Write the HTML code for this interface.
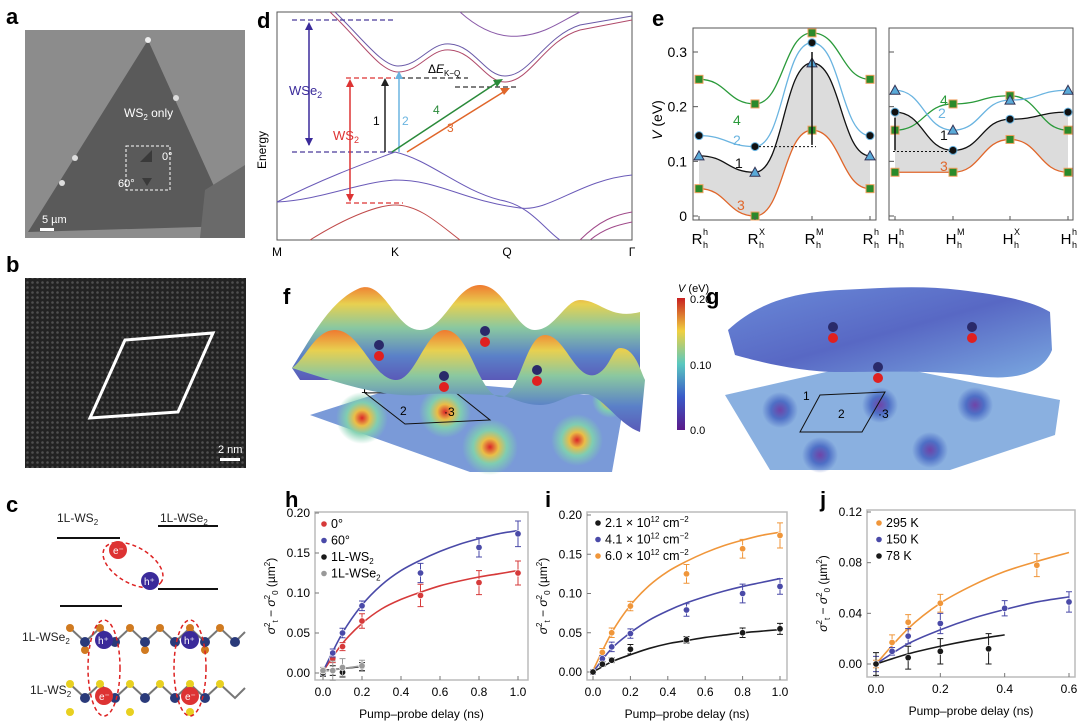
<!DOCTYPE html>
<html><head><meta charset="utf-8"><style>
body{margin:0;background:#fff}
svg{display:block;font-family:"Liberation Sans",sans-serif}
.pl{font-weight:bold;font-size:22px}
.t{font-size:12px;fill:#222}
</style></head><body>
<svg id="fig" width="1080" height="727" viewBox="0 0 1080 727" xmlns="http://www.w3.org/2000/svg">
<defs>
<linearGradient id="rowg" x1="0" y1="0" x2="0" y2="1">
<stop offset="0" stop-color="#f07a30"/><stop offset="0.2" stop-color="#e8d050"/><stop offset="0.45" stop-color="#8ac8a0"/><stop offset="0.75" stop-color="#5a80c8"/><stop offset="1" stop-color="#5a5ab8"/></linearGradient>
<linearGradient id="surfg" x1="0" y1="0" x2="1" y2="1">
<stop offset="0" stop-color="#6a8ad8"/><stop offset="0.5" stop-color="#5868c4"/><stop offset="1" stop-color="#7aa8e0"/></linearGradient>
<linearGradient id="cbar" x1="0" y1="1" x2="0" y2="0">
<stop offset="0" stop-color="#5a1a8a"/><stop offset="0.25" stop-color="#3a5ac8"/><stop offset="0.5" stop-color="#5ac8c0"/><stop offset="0.75" stop-color="#f0d040"/><stop offset="1" stop-color="#c82020"/></linearGradient>
<radialGradient id="hot"><stop offset="0" stop-color="#e02020"/><stop offset="0.3" stop-color="#f0c040"/><stop offset="0.6" stop-color="#80d0b0"/><stop offset="1" stop-color="#80d0b0" stop-opacity="0"/></radialGradient>
<radialGradient id="cold"><stop offset="0" stop-color="#6a2a9a"/><stop offset="0.5" stop-color="#4060c0"/><stop offset="1" stop-color="#4060c0" stop-opacity="0"/></radialGradient>
<pattern id="lat" width="5" height="5" patternUnits="userSpaceOnUse"><rect width="5" height="5" fill="#2e2e2e"/><circle cx="2.5" cy="2.5" r="1.3" fill="#6a6a6a"/></pattern>
</defs>

<!-- panel a -->
<text class="pl" x="6" y="24">a</text>
<g>
<rect x="25" y="30" width="220" height="208" fill="#8c8c8c"/>
<polygon points="148,40 28,232 232,226" fill="#5a5a5a"/>
<polygon points="205,190 245,165 245,238 200,238" fill="#6a6a6a"/>
<circle cx="148" cy="40" r="3" fill="#eee"/><circle cx="176" cy="98" r="3" fill="#ddd"/><circle cx="75" cy="158" r="3" fill="#ddd"/><circle cx="62" cy="183" r="3" fill="#ddd"/>
<polygon points="140,162 152,150 152,162" fill="#3a3a3a"/><polygon points="142,178 152,178 147,186" fill="#3a3a3a"/>
<rect x="126" y="146" width="44" height="44" fill="none" stroke="#fff" stroke-dasharray="3,2"/>
<text x="124" y="117" fill="#fff" font-size="12">WS<tspan font-size="8" dy="3">2</tspan><tspan dy="-3"> only</tspan></text>
<text x="162" y="160" fill="#fff" font-size="11">0°</text><text x="118" y="187" fill="#fff" font-size="11">60°</text>
<rect x="40" y="228" width="14" height="3" fill="#fff"/><text x="42" y="223" fill="#fff" font-size="11">5 µm</text>
</g>

<!-- panel b -->
<text class="pl" x="6" y="272">b</text>
<g>
<rect x="25" y="278" width="221" height="190" fill="url(#lat)"/>
<rect x="25" y="278" width="221" height="190" fill="#000" opacity="0.25"/>
<polygon points="125,340 213,333 178,412 90,418" fill="none" stroke="#fff" stroke-width="3"/>
<rect x="220" y="458" width="20" height="3" fill="#fff"/><text x="218" y="453" fill="#fff" font-size="11">2 nm</text>
</g>

<!-- panel c -->
<text class="pl" x="6" y="512">c</text>
<g>
<text x="57" y="522" class="t">1L-WS<tspan font-size="8" dy="3">2</tspan></text>
<text x="160" y="522" class="t">1L-WSe<tspan font-size="8" dy="3">2</tspan></text>
<line x1="57" y1="538" x2="120" y2="538" stroke="#111" stroke-width="2"/>
<line x1="158" y1="526" x2="218" y2="526" stroke="#111" stroke-width="2"/>
<line x1="60" y1="606" x2="122" y2="606" stroke="#111" stroke-width="2"/>
<line x1="158" y1="589" x2="218" y2="589" stroke="#111" stroke-width="2"/>
<ellipse cx="133" cy="565" rx="33" ry="18" transform="rotate(30 133 565)" fill="none" stroke="#d22" stroke-dasharray="4,3" stroke-width="1.5"/>
<circle cx="118" cy="550" r="9" fill="#d33"/><text x="113" y="554" fill="#fff" font-size="10">e⁻</text>
<circle cx="150" cy="581" r="9" fill="#3a2a9a"/><text x="144" y="585" fill="#fff" font-size="10">h⁺</text>
<text x="22" y="641" class="t">1L-WSe<tspan font-size="8" dy="3">2</tspan></text>
<text x="30" y="694" class="t">1L-WS<tspan font-size="8" dy="3">2</tspan></text>
<polyline points="70,628 85,642 100,628 115,642 130,628 145,642 160,628 175,642 190,628 205,642 220,628 235,642 245,632" fill="none" stroke="#777" stroke-width="2"/>
<polyline points="70,684 85,698 100,684 115,698 130,684 145,698 160,684 175,698 190,684 205,698 220,684 235,698 245,688" fill="none" stroke="#777" stroke-width="2"/>
<g fill="#d07a20"><circle cx="70" cy="628" r="4"/><circle cx="100" cy="628" r="4"/><circle cx="130" cy="628" r="4"/><circle cx="160" cy="628" r="4"/><circle cx="190" cy="628" r="4"/><circle cx="220" cy="628" r="4"/><circle cx="85" cy="650" r="4"/><circle cx="145" cy="650" r="4"/><circle cx="205" cy="650" r="4"/></g>
<g fill="#2a3a7a"><circle cx="85" cy="642" r="5"/><circle cx="115" cy="642" r="5"/><circle cx="145" cy="642" r="5"/><circle cx="175" cy="642" r="5"/><circle cx="205" cy="642" r="5"/><circle cx="235" cy="642" r="5"/><circle cx="85" cy="698" r="5"/><circle cx="115" cy="698" r="5"/><circle cx="145" cy="698" r="5"/><circle cx="175" cy="698" r="5"/><circle cx="205" cy="698" r="5"/></g>
<g fill="#e8d020"><circle cx="70" cy="684" r="4"/><circle cx="100" cy="684" r="4"/><circle cx="130" cy="684" r="4"/><circle cx="160" cy="684" r="4"/><circle cx="190" cy="684" r="4"/><circle cx="220" cy="684" r="4"/><circle cx="70" cy="712" r="4"/><circle cx="130" cy="712" r="4"/><circle cx="190" cy="712" r="4"/></g>
<ellipse cx="104" cy="668" rx="16" ry="48" fill="none" stroke="#d22" stroke-dasharray="4,3" stroke-width="1.5"/>
<ellipse cx="190" cy="668" rx="16" ry="48" fill="none" stroke="#d22" stroke-dasharray="4,3" stroke-width="1.5"/>
<circle cx="104" cy="640" r="9" fill="#3a2a9a"/><text x="98" y="644" fill="#fff" font-size="10">h⁺</text>
<circle cx="190" cy="640" r="9" fill="#3a2a9a"/><text x="184" y="644" fill="#fff" font-size="10">h⁺</text>
<circle cx="104" cy="696" r="9" fill="#d33"/><text x="99" y="700" fill="#fff" font-size="10">e⁻</text>
<circle cx="190" cy="696" r="9" fill="#d33"/><text x="185" y="700" fill="#fff" font-size="10">e⁻</text>
</g>

<!-- panel d -->
<text class="pl" x="257" y="28">d</text>
<g>
<rect x="277" y="12" width="355" height="228" fill="none" stroke="#555"/>
<g fill="none" stroke-width="1">
<path d="M330,12 C360,40 380,72 398,72 C420,72 430,48 450,50 C475,52 485,82 505,82 C530,82 545,40 580,30 L632,20" stroke="#b04a6a"/>
<path d="M335,12 C362,38 382,66 398,66 C420,66 430,42 450,44 C475,46 485,76 505,76 C530,76 545,36 580,25 L632,16" stroke="#6a5aa8"/>
<path d="M460,12 C480,30 500,38 520,36 C545,34 560,22 580,12" stroke="#8a5aa8"/>
<path d="M277,202 C320,180 360,165 395,152 C430,160 460,190 500,200 C530,205 545,230 560,240" stroke="#6a5ab8"/>
<path d="M277,202 C320,200 360,182 395,180 C440,180 460,200 520,208 C550,212 580,180 632,175" stroke="#6a5ab8"/>
<path d="M310,240 C350,215 380,205 395,205 C420,205 440,225 460,240" stroke="#c04a4a"/>
<path d="M580,240 C600,220 615,215 632,212" stroke="#a04a8a"/><path d="M590,240 C605,228 618,225 632,222" stroke="#a04a8a"/>
</g>
<g stroke-dasharray="5,3" stroke-width="1.2" fill="none">
<line x1="292" y1="20" x2="395" y2="20" stroke="#4a3a9a"/>
<line x1="292" y1="152" x2="395" y2="152" stroke="#4a3a9a"/>
<line x1="346" y1="78" x2="395" y2="78" stroke="#d33"/>
<line x1="346" y1="203" x2="403" y2="203" stroke="#d33"/>
<line x1="400" y1="78" x2="468" y2="78" stroke="#333"/>
<line x1="455" y1="87" x2="518" y2="87" stroke="#333"/>
</g>
<g stroke-width="1.5">
<line x1="309" y1="25" x2="309" y2="145" stroke="#3a2a9a"/><polygon points="309,22 305,30 313,30" fill="#3a2a9a"/><polygon points="309,146 305,138 313,138" fill="#3a2a9a"/>
<line x1="350" y1="82" x2="350" y2="200" stroke="#d33"/><polygon points="350,79 346,87 354,87" fill="#d33"/><polygon points="350,202 346,194 354,194" fill="#d33"/>
<line x1="385" y1="152" x2="385" y2="82" stroke="#222"/><polygon points="385,78 381,86 389,86" fill="#222"/>
<line x1="399" y1="152" x2="399" y2="76" stroke="#6ab4e0"/><polygon points="399,71 395,79 403,79" fill="#6ab4e0"/>
<line x1="392" y1="152" x2="498" y2="82" stroke="#2a8a3a"/><polygon points="503,79 493,80 497,87" fill="#2a8a3a"/>
<line x1="407" y1="152" x2="505" y2="91" stroke="#e0662a"/><polygon points="510,88 500,88 504,95" fill="#e0662a"/>
</g>
<text x="289" y="95" fill="#3a2a9a" font-size="13">WSe<tspan font-size="9" dy="3">2</tspan></text>
<text x="333" y="140" fill="#d33" font-size="13">WS<tspan font-size="9" dy="3">2</tspan></text>
<text x="373" y="125" font-size="12">1</text><text x="402" y="125" font-size="12" fill="#6ab4e0">2</text>
<text x="433" y="114" font-size="12" fill="#2a8a3a">4</text><text x="447" y="132" font-size="12" fill="#e0662a">3</text>
<text x="428" y="73" font-size="12">Δ<tspan font-style="italic">E</tspan><tspan font-size="8" dy="3">K−Q</tspan></text>
<text x="266" y="150" font-size="12" transform="rotate(-90 266 150)" text-anchor="middle">Energy</text>
<g font-size="12" text-anchor="middle"><text x="277" y="256">M</text><text x="395" y="256">K</text><text x="507" y="256">Q</text><text x="632" y="256">Γ</text></g>
</g>

<!-- panel e -->
<text class="pl" x="652" y="26">e</text>
<g id="eplot"></g>

<!-- panel f -->
<text class="pl" x="283" y="304">f</text>
<g>
<polygon points="310,415 420,380 625,398 612,472 470,472" fill="#7a9ad8"/>
<g opacity="0.95"><circle cx="362" cy="418" r="26" fill="url(#hot)"/><circle cx="445" cy="412" r="26" fill="url(#hot)"/><circle cx="490" cy="447" r="28" fill="url(#hot)"/><circle cx="577" cy="440" r="26" fill="url(#hot)"/><circle cx="610" cy="400" r="18" fill="url(#hot)"/></g>
<polygon points="365,393 405,424 490,420 455,392" fill="none" stroke="#111"/>
<text x="361" y="393" font-size="12">1</text><text x="400" y="415" font-size="12">2</text><text x="444" y="416" font-size="12">·3</text>
<path d="M292,368 C310,340 330,300 360,288 C385,280 395,330 420,330 C445,330 455,285 480,285 C505,285 515,330 535,330 C555,330 565,300 580,300 C600,300 610,320 640,312 L640,380 L300,380 Z" fill="url(#rowg)"/>
<path d="M292,368 C305,360 315,330 335,330 C360,330 372,378 395,380 C415,382 425,330 445,330 C470,330 478,395 500,397 C520,398 525,335 545,335 C565,335 575,380 595,375 C610,370 612,348 620,348 C635,348 640,370 645,380 L640,432 C620,425 605,400 590,395 C570,390 560,405 540,405 C520,405 510,395 495,395 C470,395 440,392 420,395 C380,398 330,380 292,368 Z" fill="url(#rowg)"/>
<g fill="#e02020"><circle cx="379" cy="356" r="5"/><circle cx="485" cy="342" r="5"/><circle cx="444" cy="387" r="5"/><circle cx="537" cy="381" r="5"/></g>
<g fill="#2a2a6a"><circle cx="379" cy="345" r="5"/><circle cx="485" cy="331" r="5"/><circle cx="444" cy="376" r="5"/><circle cx="537" cy="370" r="5"/></g>
</g>
<g>
<rect x="677" y="298" width="8" height="132" fill="url(#cbar)"/>
<text x="678" y="292" font-size="11"><tspan font-style="italic">V</tspan> (eV)</text>
<text x="690" y="303" font-size="11">0.20</text><text x="690" y="369" font-size="11">0.10</text><text x="690" y="434" font-size="11">0.0</text>
</g>

<!-- panel g -->
<text class="pl" x="706" y="304">g</text>
<g>
<polygon points="725,395 870,362 1060,400 1055,435 950,470 770,470" fill="#8ab0e0"/>
<g opacity="0.8"><circle cx="780" cy="410" r="18" fill="url(#cold)"/><circle cx="880" cy="405" r="18" fill="url(#cold)"/><circle cx="975" cy="405" r="18" fill="url(#cold)"/><circle cx="820" cy="455" r="18" fill="url(#cold)"/><circle cx="930" cy="450" r="18" fill="url(#cold)"/></g>
<polygon points="820,395 885,392 862,432 800,432" fill="none" stroke="#111"/>
<text x="803" y="400" font-size="12">1</text><text x="838" y="418" font-size="12">2</text><text x="878" y="418" font-size="12">·3</text>
<path d="M728,330 C760,300 800,292 840,290 C880,288 920,285 960,290 C1000,295 1030,300 1050,312 L1052,350 C1040,380 1000,380 970,375 C930,370 880,372 840,372 C800,372 760,362 735,355 Z" fill="url(#surfg)"/>
<g fill="#e02020"><circle cx="833" cy="338" r="5"/><circle cx="972" cy="338" r="5"/><circle cx="878" cy="378" r="5"/></g>
<g fill="#2a2a6a"><circle cx="833" cy="327" r="5"/><circle cx="972" cy="327" r="5"/><circle cx="878" cy="367" r="5"/></g>
</g>

<text class="pl" x="285" y="507">h</text>
<text class="pl" x="545" y="507">i</text>
<text class="pl" x="820" y="507">j</text>
<g id="hplot"></g>
<g id="iplot"></g>
<g id="jplot"></g>
</svg>
<script>
// ---- panel e data ----
var eLeftLabels = ["R","R","R","R"];
var eLeftSup = ["h","X","M","h"];
var eRightLabels = ["H","H","H","H"];
var eRightSup = ["h","M","X","h"];
var eYTicks = [0, 0.1, 0.2, 0.3];
var eL4 = [0.25, 0.205, 0.335, 0.25];
var eL2 = [0.147, 0.127, 0.317, 0.147];
var eL1 = [0.11, 0.08, 0.28, 0.11];
var eL3 = [0.05, 0.0, 0.157, 0.05];
var eR4 = [0.157, 0.205, 0.22, 0.157];
var eR2 = [0.23, 0.157, 0.212, 0.23];
var eR1 = [0.19, 0.12, 0.177, 0.19];
var eR3 = [0.08, 0.08, 0.14, 0.08];

// ---- panel h data ----
var hX = [0, 0.05, 0.1, 0.2, 0.5, 0.8, 1.0];
var hY0 = [0.002, 0.018, 0.033, 0.065, 0.097, 0.113, 0.125];
var hE0 = [0.003, 0.005, 0.005, 0.009, 0.014, 0.015, 0.015];
var hY60 = [0.0, 0.025, 0.05, 0.084, 0.125, 0.157, 0.174];
var hE60 = [0.003, 0.005, 0.006, 0.006, 0.012, 0.012, 0.016];
var hXs = [0, 0.05, 0.1, 0.2];
var hYws2 = [0.0, 0.003, 0.001, 0.008];
var hEws2 = [0.004, 0.006, 0.006, 0.005];
var hYwse2 = [0.003, 0.003, 0.007, 0.009];
var hEwse2 = [0.004, 0.012, 0.011, 0.007];
var fitX = [0, 0.1, 0.2, 0.3, 0.4, 0.5, 0.6, 0.7, 0.8, 0.9, 1.0];
var hFit0 = [0.002, 0.037, 0.062, 0.080, 0.092, 0.101, 0.109, 0.115, 0.120, 0.124, 0.128];
var hFit60 = [0.002, 0.05, 0.085, 0.11, 0.128, 0.141, 0.152, 0.161, 0.168, 0.174, 0.178];
var hFitSX = [0, 0.2];
var hFitWs2 = [0.003, 0.008];
var hFitWse2 = [0.002, 0.009];
var hYTicks = [0, 0.05, 0.10, 0.15, 0.20];
var hYTickLabels = ["0.00", "0.05", "0.10", "0.15", "0.20"];
var xTicks1 = [0, 0.2, 0.4, 0.6, 0.8, 1.0];
var xTickLabels1 = ["0.0", "0.2", "0.4", "0.6", "0.8", "1.0"];

// ---- panel i data ----
var iX = [0, 0.05, 0.1, 0.2, 0.5, 0.8, 1.0];
var iYo = [0.0, 0.025, 0.05, 0.084, 0.125, 0.157, 0.174];
var iEo = [0.003, 0.005, 0.006, 0.006, 0.012, 0.012, 0.016];
var iYb = [0.0, 0.017, 0.032, 0.049, 0.079, 0.1, 0.109];
var iEb = [0.003, 0.004, 0.006, 0.006, 0.008, 0.012, 0.01];
var iYk = [0.0, 0.01, 0.015, 0.029, 0.041, 0.05, 0.055];
var iEk = [0.002, 0.003, 0.003, 0.006, 0.004, 0.006, 0.007];
var iFitO = [0.002, 0.05, 0.085, 0.11, 0.128, 0.141, 0.152, 0.161, 0.168, 0.174, 0.178];
var iFitB = [0.0, 0.03, 0.05, 0.066, 0.078, 0.088, 0.096, 0.103, 0.109, 0.114, 0.119];
var iFitK = [0.0, 0.013, 0.022, 0.03, 0.036, 0.04, 0.044, 0.047, 0.05, 0.052, 0.054];

// ---- panel j data ----
var jXo = [0, 0.05, 0.1, 0.2, 0.5];
var jYo = [0.0, 0.017, 0.033, 0.048, 0.078];
var jEo = [0.003, 0.006, 0.006, 0.007, 0.009];
var jXb = [0, 0.05, 0.1, 0.2, 0.4, 0.6];
var jYb = [0.0, 0.01, 0.022, 0.032, 0.044, 0.049];
var jEb = [0.006, 0.003, 0.006, 0.008, 0.006, 0.008];
var jXk = [0, 0.1, 0.2, 0.35];
var jYk = [0.0, 0.005, 0.01, 0.012];
var jEk = [0.009, 0.009, 0.01, 0.012];
var jFitX = [0, 0.1, 0.2, 0.3, 0.4, 0.5, 0.6];
var jFitO = [0.0, 0.028, 0.048, 0.062, 0.073, 0.081, 0.088];
var jFitB = [0.0, 0.016, 0.027, 0.036, 0.043, 0.049, 0.053];
var jFitKX = [0, 0.1, 0.2, 0.3, 0.4];
var jFitK = [0.0, 0.008, 0.014, 0.019, 0.023];
var jYTicks = [0, 0.04, 0.08, 0.12];
var jYTickLabels = ["0.00", "0.04", "0.08", "0.12"];
var xTicks2 = [0, 0.2, 0.4, 0.6];
var xTickLabels2 = ["0.0", "0.2", "0.4", "0.6"];

var NS = "http://www.w3.org/2000/svg";
function mk(tag, parent, attrs) {
  var e = document.createElementNS(NS, tag);
  for (var k in attrs) e.setAttribute(k, attrs[k]);
  parent.appendChild(e);
  return e;
}
function smoothPath(px, py) {
  var d = "M" + px[0] + "," + py[0];
  for (var i = 0; i < px.length - 1; i++) {
    var p0x = px[Math.max(i - 1, 0)], p0y = py[Math.max(i - 1, 0)];
    var p3x = px[Math.min(i + 2, px.length - 1)], p3y = py[Math.min(i + 2, px.length - 1)];
    var c1x = px[i] + (px[i + 1] - p0x) / 6, c1y = py[i] + (py[i + 1] - p0y) / 6;
    var c2x = px[i + 1] - (p3x - px[i]) / 6, c2y = py[i + 1] - (p3y - py[i]) / 6;
    d += " C" + c1x + "," + c1y + " " + c2x + "," + c2y + " " + px[i + 1] + "," + py[i + 1];
  }
  return d;
}
function flatPath(px, py) {
  var d = "M" + px[0] + "," + py[0];
  for (var i = 0; i < px.length - 1; i++) {
    var m = (px[i] + px[i + 1]) / 2;
    d += " C" + m + "," + py[i] + " " + m + "," + py[i + 1] + " " + px[i + 1] + "," + py[i + 1];
  }
  return d;
}

// ---------- panel e ----------
(function () {
  var g = document.getElementById("eplot");
  var ey = function (v) { return 216 - v * 546.7; };
  var boxes = [{x0: 693, x1: 876, xs: [699, 755, 812, 870], labs: eLeftLabels, sups: eLeftSup,
    s: [eL4, eL2, eL1, eL3]},
    {x0: 889, x1: 1073, xs: [895, 953, 1010, 1068], labs: eRightLabels, sups: eRightSup,
    s: [eR4, eR2, eR1, eR3]}];
  var cols = ["#2a9a3a", "#6ab4e0", "#111", "#e0662a"];
  boxes.forEach(function (b, bi) {
    var px = b.xs;
    var p1 = flatPath(px, b.s[2].map(ey));
    var p3 = flatPath(px.slice().reverse(), b.s[3].slice().reverse().map(ey));
    var fill = mk("path", g, {d: p1 + " L" + px[3] + "," + ey(b.s[3][3]) + p3.replace("M", " L") + " Z", fill: "#dcdcdc"});
    
    
    var box = mk("rect", g, {x: b.x0, y: 28, width: b.x1 - b.x0, height: 192, fill: "none", stroke: "#555"});
    
    
    b.s.forEach(function (ser, si) {
      var ln = mk("path", g, {d: flatPath(px, ser.map(ey)), fill: "none", stroke: cols[si], "stroke-width": 1.3});
      
      
      ser.forEach(function (v, k) {
        var m;
        if (si === 0 || si === 3) m = mk("rect", g, {x: px[k] - 4, y: ey(v) - 4, width: 8, height: 8, fill: "#2a8a2a", stroke: "#f0a060"});
        else if ((si === 1 && bi === 1) || (si === 2 && bi === 0)) m = mk("polygon", g, {points: px[k] + "," + (ey(v) - 5) + " " + (px[k] - 5) + "," + (ey(v) + 4) + " " + (px[k] + 5) + "," + (ey(v) + 4), fill: "#5aaad8", stroke: "#335"});
        else m = mk("circle", g, {cx: px[k], cy: ey(v), r: 4, fill: "#111", stroke: "#6ab4e0"});
        
        
      });
    });
    b.labs.forEach(function (l, k) {
      var t = mk("text", g, {x: px[k] - 2, y: 244, "font-size": 15, "text-anchor": "middle"});
      t.textContent = l;
      
      
      var s1 = mk("text", g, {x: px[k] + 4, y: 235, "font-size": 9}); s1.textContent = b.sups[k];
      var s2 = mk("text", g, {x: px[k] + 4, y: 248, "font-size": 9}); s2.textContent = "h";
      mk("line", g, {x1: px[k], y1: 220, x2: px[k], y2: 216, stroke: "#555"});
    });
    eYTicks.forEach(function (v) {
      mk("line", g, {x1: b.x0, y1: ey(v), x2: b.x0 + 5, y2: ey(v), stroke: "#555"});
      if (bi === 0) {
        var t = mk("text", g, {x: b.x0 - 6, y: ey(v) + 5, "font-size": 14, "text-anchor": "end"});
        t.textContent = v === 0 ? "0" : v.toFixed(1);
        
        
      }
    });
  });
  var lab = [["4", 733, 125, "#2a9a3a"], ["2", 733, 145, "#6ab4e0"], ["1", 735, 168, "#111"], ["3", 737, 210, "#e0662a"],
             ["4", 940, 105, "#2a9a3a"], ["2", 938, 118, "#6ab4e0"], ["1", 940, 140, "#111"], ["3", 940, 171, "#e0662a"]];
  lab.forEach(function (a) { var t = mk("text", g, {x: a[1], y: a[2], "font-size": 14, fill: a[3]}); t.textContent = a[0]; });
  mk("line", g, {x1: 755, y1: ey(0.127), x2: 816, y2: ey(0.127), stroke: "#111", "stroke-dasharray": "2,2"});
  mk("line", g, {x1: 893, y1: ey(0.118), x2: 953, y2: ey(0.118), stroke: "#111", "stroke-dasharray": "2,2"});
  mk("line", g, {x1: 812, y1: ey(0.3), x2: 812, y2: ey(0.13), stroke: "#111", "stroke-width": 1.5});
  mk("line", g, {x1: 895, y1: ey(0.18), x2: 895, y2: ey(0.12), stroke: "#111", "stroke-width": 1.5});
  var yt = mk("text", g, {x: 662, y: 120, "font-size": 14, transform: "rotate(-90 662 120)", "text-anchor": "middle"});
  yt.innerHTML = '<tspan font-style="italic">V</tspan> (eV)';
  
  
})();

// ---------- generic plot ----------
function plot(gid, cfg) {
  var g = document.getElementById(gid);
  var sx = function (v) { return cfg.px0 + (v - cfg.xmin) / (cfg.xmax - cfg.xmin) * (cfg.px1 - cfg.px0); };
  var sy = function (v) { return cfg.py0 - (v - cfg.ymin) / (cfg.ymax - cfg.ymin) * (cfg.py0 - cfg.py1); };
  var fr = mk("rect", g, {x: cfg.bx0, y: cfg.by0, width: cfg.bx1 - cfg.bx0, height: cfg.by1 - cfg.by0, fill: "none", stroke: "#bbb", "stroke-width": 1.5});
  
  
  cfg.yt.forEach(function (v, i) {
    mk("line", g, {x1: cfg.bx0, y1: sy(v), x2: cfg.bx0 + 4, y2: sy(v), stroke: "#777"});
    var t = mk("text", g, {x: cfg.bx0 - 5, y: sy(v) + 4, "font-size": 12, "text-anchor": "end"});
    t.textContent = cfg.ytl[i];
    
    
  });
  cfg.xt.forEach(function (v, i) {
    mk("line", g, {x1: sx(v), y1: cfg.by1, x2: sx(v), y2: cfg.by1 - 4, stroke: "#777"});
    var t = mk("text", g, {x: sx(v), y: cfg.by1 + 16, "font-size": 12, "text-anchor": "middle"});
    t.textContent = cfg.xtl[i];
    
    
  });
  var xt = mk("text", g, {x: (cfg.bx0 + cfg.bx1) / 2, y: cfg.by1 + 38, "font-size": 12, "text-anchor": "middle"});
  xt.textContent = "Pump–probe delay (ns)";
  
  
  var yx = cfg.bx0 - 40, ym = (cfg.by0 + cfg.by1) / 2;
  var ytt = mk("text", g, {x: yx, y: ym, "font-size": 12, "text-anchor": "middle", transform: "rotate(-90 " + yx + " " + ym + ")"});
  ytt.innerHTML = '<tspan font-style="italic">σ</tspan><tspan font-size="8" dy="-5">2</tspan><tspan font-size="8" dy="8">t</tspan><tspan dy="-3"> − </tspan><tspan font-style="italic">σ</tspan><tspan font-size="8" dy="-5">2</tspan><tspan font-size="8" dy="8">0</tspan><tspan dy="-3"> (µm</tspan><tspan font-size="8" dy="-5">2</tspan><tspan dy="5">)</tspan>';
  
  
  cfg.fits.forEach(function (f) {
    var p = mk("path", g, {d: smoothPath(f[0].map(sx), f[1].map(sy)), fill: "none", stroke: f[2], "stroke-width": 1.6});
    
    
  });
  cfg.series.forEach(function (s) {
    s.x.forEach(function (xv, k) {
      var X = sx(xv), Y = sy(s.y[k]), e = s.e[k];
      var eb = mk("path", g, {d: "M" + X + "," + sy(s.y[k] - e) + "V" + sy(s.y[k] + e) + "M" + (X - 3) + "," + sy(s.y[k] - e) + "h6M" + (X - 3) + "," + sy(s.y[k] + e) + "h6", stroke: s.c, fill: "none", "stroke-width": 1});
      
      
      var c = mk("circle", g, {cx: X, cy: Y, r: 3.2, fill: s.c, stroke: "#fff", "stroke-width": 0.6});
      
      
    });
  });
  cfg.legend.forEach(function (l, i) {
    var y = cfg.ly + i * 16.5;
    var c = mk("circle", g, {cx: cfg.lx, cy: y - 4, r: 2.8, fill: l[1]});
    
    
    var t = mk("text", g, {x: cfg.lx + 7, y: y, "font-size": 12.5});
    t.innerHTML = l[0];
    
    
  });
}
var R = "#d63a3a", B = "#4a4aa8", K = "#1a1a1a", G = "#999", O = "#f0963a";
plot("hplot", {bx0: 315, bx1: 528, by0: 512, by1: 680, px0: 323, px1: 518, xmin: 0, xmax: 1, py0: 673, py1: 513, ymin: 0, ymax: 0.2,
  yt: hYTicks, ytl: hYTickLabels, xt: xTicks1, xtl: xTickLabels1,
  fits: [[fitX, hFit0, R], [fitX, hFit60, B], [hFitSX, hFitWs2, K], [hFitSX, hFitWse2, G]],
  series: [{x: hX, y: hY0, e: hE0, c: R}, {x: hX, y: hY60, e: hE60, c: B}, {x: hXs, y: hYws2, e: hEws2, c: K}, {x: hXs, y: hYwse2, e: hEwse2, c: G}],
  legend: [["0°", R], ["60°", B], ['1L-WS<tspan font-size="8" dy="3">2</tspan>', K], ['1L-WSe<tspan font-size="8" dy="3">2</tspan>', G]], lx: 324, ly: 528});
plot("iplot", {bx0: 587, bx1: 787, by0: 512, by1: 680, px0: 593, px1: 780, xmin: 0, xmax: 1, py0: 672, py1: 515, ymin: 0, ymax: 0.2,
  yt: hYTicks, ytl: hYTickLabels, xt: xTicks1, xtl: xTickLabels1,
  fits: [[fitX, iFitO, O], [fitX, iFitB, B], [fitX, iFitK, K]],
  series: [{x: iX, y: iYo, e: iEo, c: O}, {x: iX, y: iYb, e: iEb, c: B}, {x: iX, y: iYk, e: iEk, c: K}],
  legend: [['2.1 × 10<tspan font-size="8" dy="-5">12</tspan><tspan dy="5"> cm</tspan><tspan font-size="8" dy="-5">−2</tspan>', K],
           ['4.1 × 10<tspan font-size="8" dy="-5">12</tspan><tspan dy="5"> cm</tspan><tspan font-size="8" dy="-5">−2</tspan>', B],
           ['6.0 × 10<tspan font-size="8" dy="-5">12</tspan><tspan dy="5"> cm</tspan><tspan font-size="8" dy="-5">−2</tspan>', O]], lx: 598, ly: 527});
plot("jplot", {bx0: 867, bx1: 1075, by0: 510, by1: 677, px0: 876, px1: 1069, xmin: 0, xmax: 0.6, py0: 664, py1: 512, ymin: 0, ymax: 0.12,
  yt: jYTicks, ytl: jYTickLabels, xt: xTicks2, xtl: xTickLabels2,
  fits: [[jFitX, jFitO, O], [jFitX, jFitB, B], [jFitKX, jFitK, K]],
  series: [{x: jXo, y: jYo, e: jEo, c: O}, {x: jXb, y: jYb, e: jEb, c: B}, {x: jXk, y: jYk, e: jEk, c: K}],
  legend: [["295 K", O], ["150 K", B], ["78 K", K]], lx: 879, ly: 527});
</script>
</body></html>
